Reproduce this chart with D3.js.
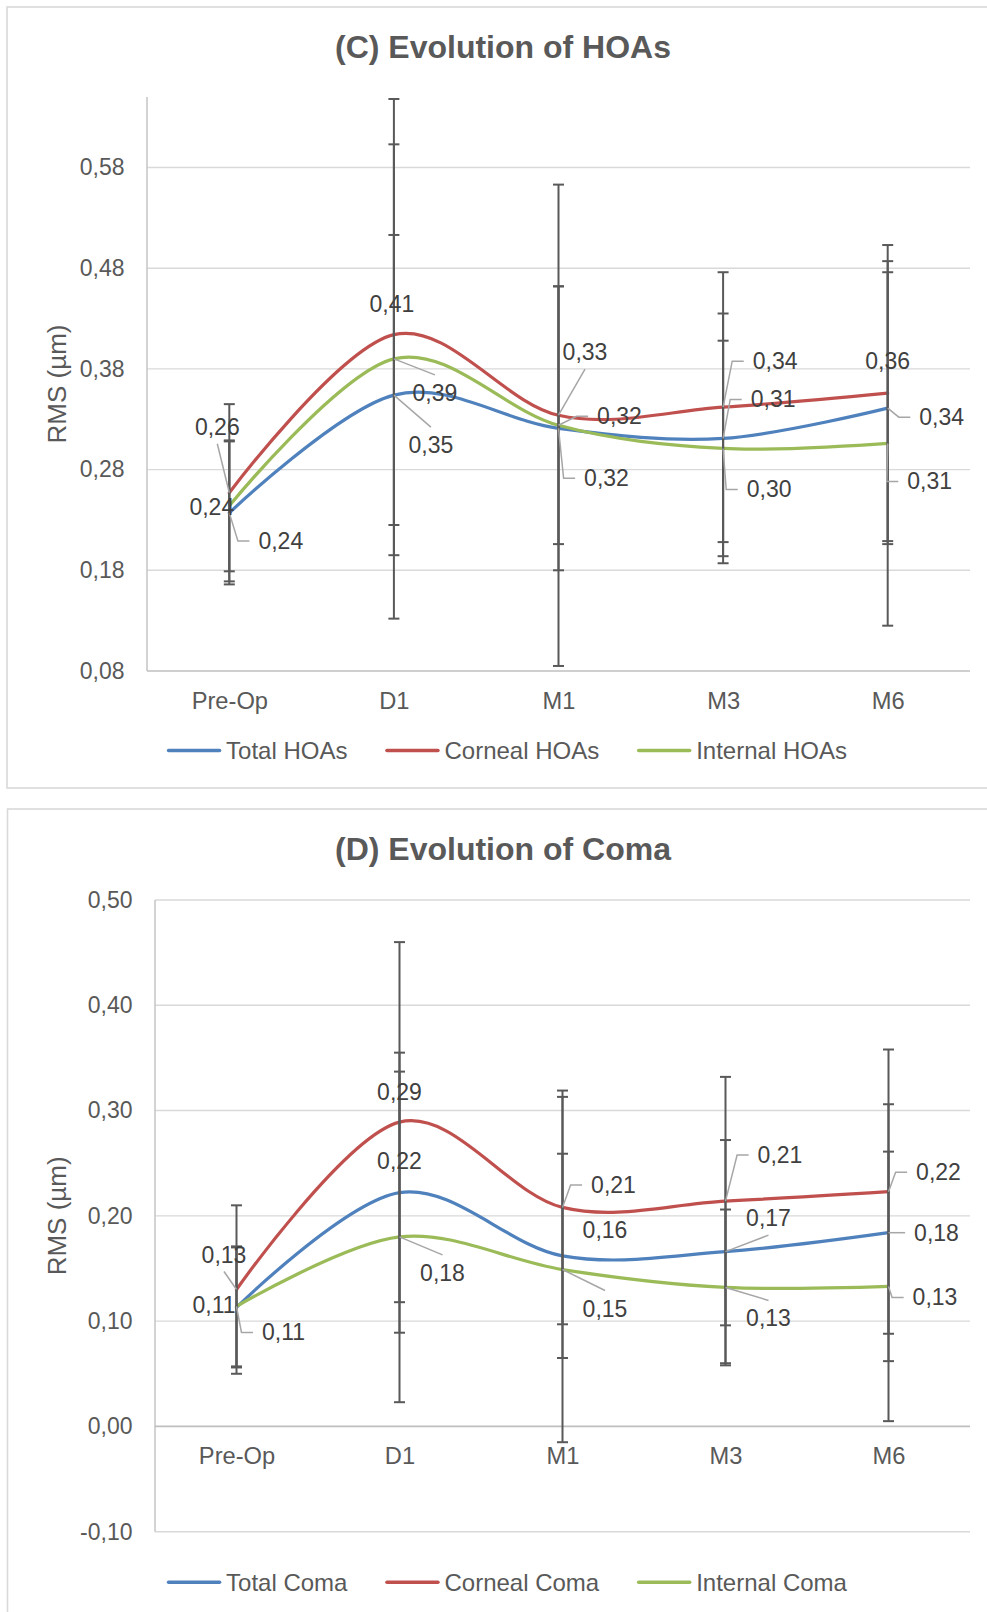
<!DOCTYPE html>
<html><head><meta charset="utf-8">
<script src="https://cdn.jsdelivr.net/npm/d3@7"></script>
<style>body{margin:0;background:#fff}svg{display:block}</style>
</head><body>
<svg id="c" width="987" height="1612"></svg>
<script>
// ---------- DATA ----------
const categories = ["Pre-Op", "D1", "M1", "M3", "M6"];

// (C) Evolution of HOAs
const hoaSeriesNames = ["Total HOAs", "Corneal HOAs", "Internal HOAs"];
const hoaTotal    = [0.237, 0.354, 0.321, 0.311, 0.341];
const hoaCorneal  = [0.257, 0.414, 0.334, 0.342, 0.356];
const hoaInternal = [0.244, 0.390, 0.324, 0.301, 0.306];
const hoaTotalSD    = [0.071, 0.159, 0.141, 0.124, 0.135];
const hoaCornealSD  = [0.088, 0.189, 0.128, 0.134, 0.147];
const hoaInternalSD = [0.065, 0.258, 0.239, 0.107, 0.181];
const hoaTicks = [0.08, 0.18, 0.28, 0.38, 0.48, 0.58];

// (D) Evolution of Coma
const comaSeriesNames = ["Total Coma", "Corneal Coma", "Internal Coma"];
const comaTotal    = [0.113, 0.222, 0.162, 0.166, 0.184];
const comaCorneal  = [0.130, 0.289, 0.208, 0.214, 0.223];
const comaInternal = [0.114, 0.180, 0.149, 0.132, 0.133];
const comaTotalSD    = [0.057, 0.133, 0.097, 0.106, 0.122];
const comaCornealSD  = [0.080, 0.171, 0.111, 0.118, 0.135];
const comaInternalSD = [0.057, 0.157, 0.164, 0.074, 0.128];
const comaTicks = [-0.10, 0.00, 0.10, 0.20, 0.30, 0.40, 0.50];

// ---------- LAYOUT (label placement offsets, px relative to point) ----------
const hoaLabelLayout = [
  [[51.5, 28, "left"], [37, 50, "top"], [48, 50, "left"], [50, -39, "left"], [54, 9, "left"]],
  [[-12, -66, "bottom"], [-2, -31, "none"], [26.5, -63, "bottom"], [52, -46, "left"], [0, -32, "none"]],
  [[-17.5, 1, "none"], [41, 34, "top"], [61, -9, "left"], [46, 41, "left"], [42, 38, "left"]]
];
const comaLabelLayout = [
  [[-22.5, -2.5, "none"], [0, -31.5, "none"], [42.5, -26, "none"], [43, -33.5, "bottom"], [48, 0, "left"]],
  [[-12.5, -35, "bottom"], [0, -30, "none"], [51, -22.5, "left"], [54.5, -46, "left"], [50, -19.5, "left"]],
  [[47, 26, "left"], [43, 36, "top"], [42.5, 39, "top"], [43, 31, "top"], [46.5, 11, "left"]]
];

const colors = ["#4F81BD", "#C0504D", "#9BBB59"];
const FONT = '"Liberation Sans", Arial, Helvetica, sans-serif';
const svg = d3.select("#c");
const fmt = v => v.toFixed(2).replace(".", ",");

function drawChart(cfg) {
  const g = svg.append("g").style("font-family", FONT);
  g.append("rect").attr("x", cfg.box[0]).attr("y", cfg.box[1])
    .attr("width", cfg.box[2]).attr("height", cfg.box[3])
    .attr("fill", "#fff").attr("stroke", "#d9d9d9").attr("stroke-width", 1.6);

  const x = d3.scalePoint().domain(categories).range([cfg.left, cfg.right]).padding(0.5);
  const y = d3.scaleLinear().domain(cfg.domain).range([cfg.bottom, cfg.top]);

  // title
  g.append("text").attr("x", cfg.titleX).attr("y", cfg.titleY)
    .attr("text-anchor", "middle").attr("dominant-baseline", "central")
    .attr("font-size", 32).attr("font-weight", "bold").attr("fill", "#595959")
    .text(cfg.title);

  // gridlines
  g.append("g").selectAll("line").data(cfg.ticks.filter(t => t !== cfg.axisAt)).join("line")
    .attr("x1", cfg.left).attr("x2", cfg.right)
    .attr("y1", d => y(d)).attr("y2", d => y(d))
    .attr("stroke", "#d9d9d9").attr("stroke-width", 1.4);

  // y axis (labels)
  const ya = g.append("g").attr("transform", `translate(${cfg.left},0)`)
    .call(d3.axisLeft(y).tickValues(cfg.ticks).tickFormat(fmt).tickSize(0).tickPadding(22.5));
  ya.select(".domain").remove();
  ya.selectAll("text").attr("font-size", 23).attr("fill", "#595959").style("font-family", FONT);
  g.append("line").attr("x1", cfg.left).attr("x2", cfg.left)
    .attr("y1", cfg.top).attr("y2", cfg.bottom)
    .attr("stroke", "#c8c8c8").attr("stroke-width", 1.6);

  // x axis
  const xa = g.append("g").attr("transform", `translate(0,${y(cfg.axisAt)})`)
    .call(d3.axisBottom(x).tickSize(0).tickPadding(cfg.xPad));
  xa.select(".domain").remove();
  xa.selectAll("text").attr("font-size", 23.7).attr("fill", "#595959").style("font-family", FONT);
  g.append("line").attr("x1", cfg.left).attr("x2", cfg.right)
    .attr("y1", y(cfg.axisAt)).attr("y2", y(cfg.axisAt))
    .attr("stroke", "#bfbfbf").attr("stroke-width", 1.6);

  // y title
  const yc = (cfg.top + cfg.bottom) / 2;
  g.append("text").attr("transform", `translate(${cfg.yTitleX},${yc}) rotate(-90)`)
    .attr("text-anchor", "middle").attr("dominant-baseline", "central")
    .attr("font-size", 26).attr("fill", "#595959").text("RMS (µm)");

  // lines
  const line = d3.line().x((d, i) => x(categories[i])).y(d => y(d))
    .curve(d3.curveCatmullRom.alpha(0));
  cfg.series.forEach((s, si) => {
    g.append("path").attr("d", line(s)).attr("fill", "none")
      .attr("stroke", colors[si]).attr("stroke-width", 3.2).attr("stroke-linecap", "round");
  });

  // error bars
  const eb = g.append("g").attr("stroke", "#595959").attr("stroke-width", 2);
  cfg.series.forEach((s, si) => {
    s.forEach((v, i) => {
      const cx = x(categories[i]);
      const sd = cfg.sds[si][i];
      const y1 = y(v + sd), y2 = y(v - sd);
      eb.append("line").attr("x1", cx).attr("x2", cx).attr("y1", y1).attr("y2", y2);
      [y1, y2].forEach(yy => eb.append("line").attr("x1", cx - 5.5).attr("x2", cx + 5.5)
        .attr("y1", yy).attr("y2", yy));
    });
  });

  // data labels with leaders
  const lg = g.append("g");
  const tg = g.append("g");
  cfg.series.forEach((s, si) => {
    s.forEach((v, i) => {
      const px = x(categories[i]), py = y(v);
      const [dx, dy, type] = cfg.labels[si][i];
      const lx = px + dx, ly = py + dy;
      const t = tg.append("text").attr("x", lx).attr("y", ly)
        .attr("text-anchor", "middle").attr("dominant-baseline", "central")
        .attr("font-size", 23).attr("fill", "#404040").text(fmt(v));
      const w = t.node().getComputedTextLength();
      let pts = null;
      if (type === "left") {
        const xe = lx - w / 2 - 9;
        pts = [[px, py], [xe - 11.5, ly], [xe, ly]];
      } else if (type === "top") {
        pts = [[px, py], [lx, ly - 18]];
      } else if (type === "bottom") {
        pts = [[px, py], [lx, ly + 17]];
      }
      if (pts) lg.append("path").attr("d", d3.line()(pts)).attr("fill", "none")
        .attr("stroke", "#a6a6a6").attr("stroke-width", 1.5);
    });
  });

  // legend
  const leg = g.append("g");
  const items = cfg.names.map((n, i) => {
    const t = leg.append("text").attr("y", cfg.legendY).attr("dominant-baseline", "central")
      .attr("font-size", 24).attr("fill", "#595959").text(n);
    return { t, w: t.node().getComputedTextLength(), i };
  });
  const lineLen = 54, gap1 = 5, gap2 = 38;
  const total = d3.sum(items, d => lineLen + gap1 + d.w) + gap2 * (items.length - 1);
  let cur = cfg.legendCX - total / 2;
  items.forEach(d => {
    leg.append("line").attr("x1", cur + 1.5).attr("x2", cur + lineLen - 1.5)
      .attr("y1", cfg.legendY).attr("y2", cfg.legendY)
      .attr("stroke", colors[d.i]).attr("stroke-width", 3.5).attr("stroke-linecap", "round");
    d.t.attr("x", cur + lineLen + gap1);
    cur += lineLen + gap1 + d.w + gap2;
  });
}

drawChart({
  box: [7, 7, 1000, 781],
  title: "(C) Evolution of HOAs", titleX: 503, titleY: 46.5,
  left: 147, right: 970, top: 97, bottom: 671,
  domain: [0.08, 0.65], ticks: hoaTicks, axisAt: 0.08, xPad: 21,
  yTitleX: 56.5,
  series: [hoaTotal, hoaCorneal, hoaInternal],
  sds: [hoaTotalSD, hoaCornealSD, hoaInternalSD],
  labels: hoaLabelLayout, names: hoaSeriesNames,
  legendY: 750.5, legendCX: 507
});

drawChart({
  box: [7.5, 809, 1000, 900],
  title: "(D) Evolution of Coma", titleX: 503, titleY: 849,
  left: 155, right: 970, top: 900, bottom: 1531.7,
  domain: [-0.10, 0.50], ticks: comaTicks, axisAt: 0, xPad: 20.5,
  yTitleX: 56.5,
  series: [comaTotal, comaCorneal, comaInternal],
  sds: [comaTotalSD, comaCornealSD, comaInternalSD],
  labels: comaLabelLayout, names: comaSeriesNames,
  legendY: 1582.3, legendCX: 507
});
</script>
</body></html>
